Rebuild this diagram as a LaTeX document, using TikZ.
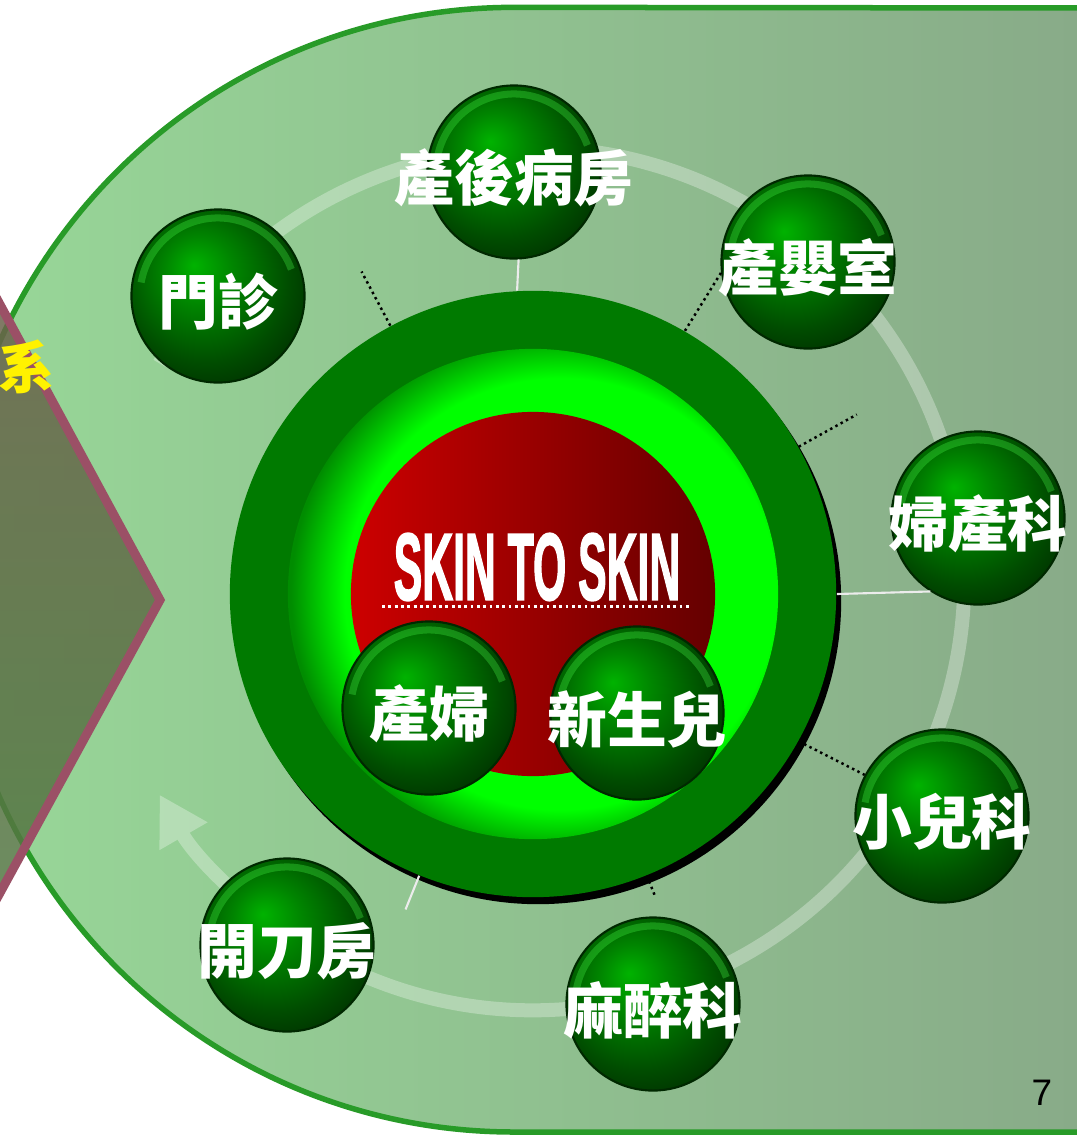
\documentclass[tikz,border=0pt]{standalone}
\usepackage{fontspec}
\setsansfont{Liberation Sans}
\newfontfamily\cjkfont{Noto Sans CJK TC}
\newfontfamily\skinfont{Liberation Sans}[UprightFont={* Bold}, FakeBold=2.2]
\usetikzlibrary{arrows.meta, shadows}

\definecolor{tabgreen}{RGB}{152,216,152}
\definecolor{tabgrey}{RGB}{136,170,136}
\definecolor{tabedge}{RGB}{40,155,40}
\definecolor{rimred}{RGB}{155,80,102}
\definecolor{rhomtop}{RGB}{118,88,80}
\definecolor{rhombot}{RGB}{72,130,62}
\definecolor{ringgreen}{RGB}{0,122,0}
\definecolor{ballrim}{RGB}{0,40,0}
\definecolor{redleft}{RGB}{205,0,0}
\definecolor{redright}{RGB}{100,0,0}

\pgfdeclareradialshading{glow}{\pgfpoint{5bp}{0bp}}{rgb(0bp)=(0,1,0); rgb(22bp)=(0,1,0); rgb(27bp)=(0,0.55,0); rgb(50bp)=(0,0.55,0)}
\pgfdeclareradialshading{knob}{\pgfpoint{-7bp}{9bp}}{rgb(0bp)=(0,0.7,0); rgb(10bp)=(0,0.52,0); rgb(24bp)=(0,0.3,0); rgb(33bp)=(0,0.18,0); rgb(50bp)=(0,0.18,0)}

\tikzset{
    ball/.style={circle, minimum size=1.73cm, inner sep=0pt, shade, shading=knob,
        draw=ballrim, line width=0.6pt,
        path picture={\draw[green!70!white, opacity=0.3, line width=2pt]
            (path picture bounding box.center) ++(170:0.78cm)
            arc[start angle=170, end angle=20, radius=0.78cm];}},
    balltext/.style={text=white, font=\cjkfont\bfseries\fontsize{17}{20}\selectfont, yshift=-0.06cm},
    spoke/.style={white!85!gray, line width=0.6pt},
    dotline/.style={black, densely dotted, line width=0.7pt},
    track/.style={white, line width=0.14cm, -{Triangle[width=0.52cm, length=0.48cm]}}
}

\begin{document}
\begin{tikzpicture}[x=0.01cm, y=-0.01cm]
    \useasboundingbox (0,0) rectangle (1077,1136);
    \clip (0,0) rectangle (1077,1136);
    \fill[white] (0,0) rectangle (1077,1136);

    % tab and rhombus
    \draw[tabedge, line width=0.055cm, left color=tabgreen, right color=tabgrey]
        (1100,1132) -- (514,1132) arc[start angle=270, end angle=90, radius=5.62cm] -- (1100,8);
    \draw[rimred, line width=0.09cm, top color=rhomtop, bottom color=rhombot, fill opacity=0.85]
        (160,600) -- (-140,46) -- (-440,600) -- (-140,1149) -- cycle;
    \node[text=yellow, font=\cjkfont\bfseries\fontsize{16}{18}\selectfont] (sys) at (27,367) {系};

    % orbit
    \coordinate (tc) at (533,579);
    \begin{scope}[transparency group, opacity=0.3]
        \draw[track] (tc) ++(150:4.31cm) arc[start angle=150, end angle=-150, radius=4.31cm];
    \end{scope}

    % centre
    \node[circle, minimum size=6.06cm, fill=ringgreen,
        drop shadow={shadow xshift=0.05cm, shadow yshift=-0.07cm, fill=black, opacity=1}] (outer) at (533,594) {};
    \node[circle, minimum size=4.9cm, shade, shading=glow] (mid) at (outer.center) {};
    \node[circle, minimum size=3.64cm, left color=redleft, right color=redright] (core) at (outer.center) {};
    \node[text=white, font=\skinfont\fontsize{27}{29}\selectfont, inner sep=0.05cm] (skin) at (537,567)
        {\scalebox{0.45}[1]{SKIN TO SKIN}};
    \draw[white, densely dotted, line width=0.8pt] ([xshift=-0.06cm]skin.south west) -- ([xshift=0.05cm]skin.south east);

    \node[ball, label={[balltext]center:產婦}] (c1) at (429,708) {};
    \node[ball, label={[balltext]center:新生兒}] (c2) at (637,713) {};

    % stations
    \node[ball, label={[balltext]center:門診}] (s1) at (218,296) {};
    \node[ball, label={[balltext]center:產後病房}] (s2) at (514,172) {};
    \node[ball, label={[balltext]center:產嬰室}] (s3) at (808,262) {};
    \node[ball, label={[balltext]center:婦產科}] (s4) at (978,518) {};
    \node[ball, label={[balltext]center:小兒科}] (s5) at (942,816) {};
    \node[ball, label={[balltext]center:麻醉科}] (s6) at (653,1004) {};
    \node[ball, label={[balltext]center:開刀房}] (s7) at (287,945) {};

    \coordinate (t1) at ([shift={(118:3.65cm)}]outer.center);
    \coordinate (t2) at ([shift={(29:3.70cm)}]outer.center);
    \coordinate (t3) at ([shift={(292:3.26cm)}]outer.center);
    \coordinate (t4) at ([shift={(248:3.40cm)}]outer.center);

    \draw[spoke] (outer.93) -- (s2.273);
    \draw[spoke] (outer.0) -- (s4.237);
    \draw[spoke] (outer.248) -- (t4);
    \draw[dotline] (outer.118) -- (t1);
    \draw[dotline] (outer.60) -- (s3.187);
    \draw[dotline] (outer.29) -- (t2);
    \draw[dotline] (outer.331) -- (s5.152);
    \draw[dotline] (outer.292) -- (t3);

    \node[font=\sffamily\fontsize{10.5}{12}\selectfont] (pg) at (1042,1093) {7};
\end{tikzpicture}
\end{document}
